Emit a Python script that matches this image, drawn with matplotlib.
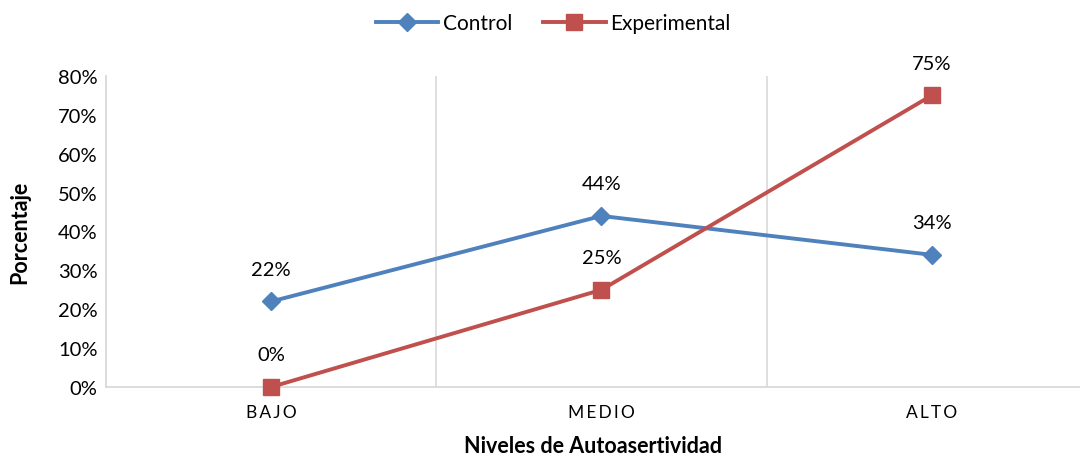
import matplotlib.pyplot as plt
from matplotlib.ticker import PercentFormatter

plt.rcParams['font.family'] = ['Lato', 'DejaVu Sans']

# data
niveles = ["B\u2009A\u2009J\u2009O", "M\u2009E\u2009D\u2009I\u2009O", "A\u2009L\u2009T\u2009O"]
control = [0.22, 0.44, 0.34]
experimental = [0.00, 0.25, 0.75]

azul = "#4F81BD"
rojo = "#C0504D"
gris = "#D9D9D9"

fig = plt.figure(figsize=(10.8, 4.6), dpi=100)
ax = fig.add_axes([106/1080, 1 - 388/460, 1 - 106/1080, (388 - 77)/460])

x = list(range(len(niveles)))
ax.plot(x, control, color=azul, lw=2.8, marker="D", ms=9, label="Control", clip_on=False, zorder=3)
ax.plot(x, experimental, color=rojo, lw=2.8, marker="s", ms=11, label="Experimental", clip_on=False, zorder=3)

for xi, v in zip(x, control):
    ax.annotate(f"{v:.0%}", (xi, v), xytext=(0, 17), textcoords="offset points",
                ha="center", va="bottom", fontsize=14.5)
for xi, v in zip(x, experimental):
    ax.annotate(f"{v:.0%}", (xi, v), xytext=(0, 17), textcoords="offset points",
                ha="center", va="bottom", fontsize=14.5)

ax.set_xlim(-0.5, 2.449)
ax.set_ylim(0, 0.8)
ax.set_yticks([i/10 for i in range(9)])
ax.yaxis.set_major_formatter(PercentFormatter(1.0, decimals=0))
ax.set_xticks(x)
ax.set_xticklabels(niveles)

# vertical lines between categories
for b in [0.5, 1.5]:
    ax.axvline(b, color=gris, lw=1.2, zorder=0)

for s in ["top", "right"]:
    ax.spines[s].set_visible(False)
for s in ["left", "bottom"]:
    ax.spines[s].set_color(gris)
    ax.spines[s].set_linewidth(1.3)
ax.tick_params(axis="both", length=0, labelsize=14.5)
ax.tick_params(axis="x", pad=12, labelsize=12.5)
ax.tick_params(axis="y", pad=6)

ax.set_ylabel("Porcentaje", fontsize=15.5, fontweight="bold")
ax.set_xlabel("Niveles de Autoasertividad", fontsize=15.5, fontweight="bold", labelpad=11)
ax.yaxis.set_label_coords(-76/974, 0.5)

fig.legend(loc="upper center", bbox_to_anchor=(553/1080, 1.01), ncol=2, frameon=False,
           fontsize=15, handlelength=3, columnspacing=1.5, handletextpad=0.2)

fig.savefig("out.png", dpi=100)
